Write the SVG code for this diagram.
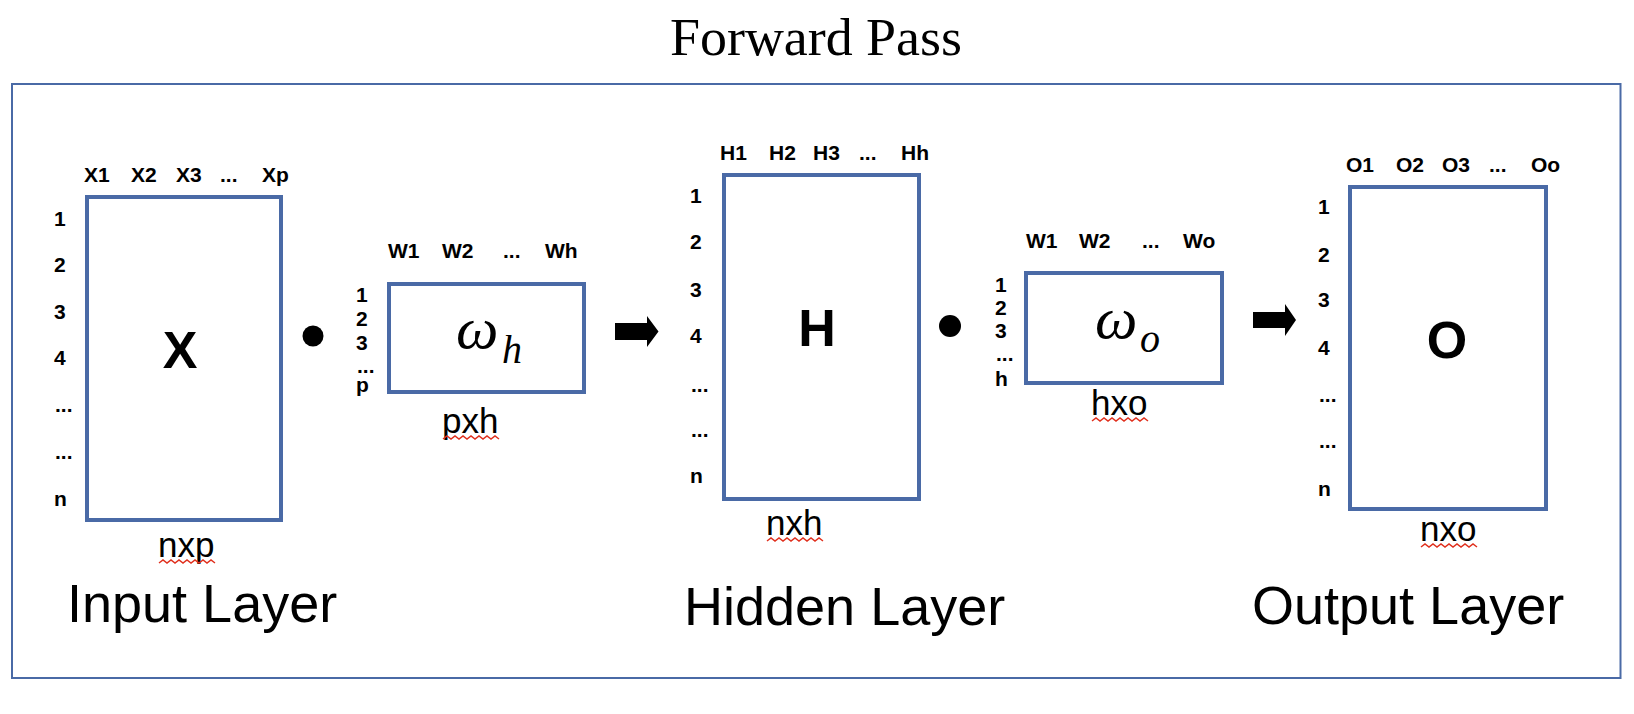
<svg xmlns="http://www.w3.org/2000/svg" width="1634" height="714" viewBox="0 0 1634 714">
<style>
.box{fill:#fff;stroke:#4a6aa6;stroke-width:4}
.frame{fill:none;stroke:#4a6aa6;stroke-width:2}
.lbl{font-family:"Liberation Sans",Arial,sans-serif;font-weight:bold;font-size:21px;fill:#000}
.big{font-family:"Liberation Sans",Arial,sans-serif;font-weight:bold;font-size:52px;fill:#000;text-anchor:middle}
.dim{font-family:"Liberation Sans",Arial,sans-serif;font-size:35px;fill:#000}
.layer{font-family:"Liberation Sans",Arial,sans-serif;font-size:54px;fill:#000}
.greek{font-family:"Liberation Serif","Times New Roman",serif;font-style:italic;fill:#000}
.sq{fill:none;stroke:#e0301e;stroke-width:1.5}
</style>
<rect class="frame" x="12" y="84" width="1608.5" height="594"/>
<text x="816" y="55" font-family="Liberation Serif,'Times New Roman',serif" font-size="52" text-anchor="middle" textLength="292" lengthAdjust="spacingAndGlyphs">Forward Pass</text>

<g id="input">
<rect class="box" x="87" y="197" width="194" height="323"/>
<text class="big" x="180" y="368">X</text>
<text class="lbl" x="84" y="182">X1</text>
<text class="lbl" x="131" y="182">X2</text>
<text class="lbl" x="176" y="182">X3</text>
<text class="lbl" x="220" y="182">...</text>
<text class="lbl" x="262" y="182">Xp</text>
<text class="lbl" x="54" y="226">1</text>
<text class="lbl" x="54" y="272">2</text>
<text class="lbl" x="54" y="319">3</text>
<text class="lbl" x="54" y="365">4</text>
<text class="lbl" x="55" y="412">...</text>
<text class="lbl" x="55" y="459">...</text>
<text class="lbl" x="54" y="506">n</text>
<text class="dim" x="158" y="557">nxp</text>
<path class="sq" d="M159 563 l4 -3 l4 3 l4 -3 l4 3 l4 -3 l4 3 l4 -3 l4 3 l4 -3 l4 3 l4 -3 l4 3 l4 -3 l4 3"/>
<text class="layer" x="67" y="622">Input Layer</text>
</g>

<g id="weights_h">
<rect class="box" x="389" y="284" width="195" height="108"/>
<text class="greek" x="456" y="348" font-size="60">ω</text>
<text class="greek" x="502" y="363" font-size="40">h</text>
<text class="lbl" x="388" y="258">W1</text>
<text class="lbl" x="442" y="258">W2</text>
<text class="lbl" x="503" y="258">...</text>
<text class="lbl" x="545" y="258">Wh</text>
<text class="lbl" x="356" y="302">1</text>
<text class="lbl" x="356" y="326">2</text>
<text class="lbl" x="356" y="350">3</text>
<text class="lbl" x="357" y="373">...</text>
<text class="lbl" x="356" y="392">p</text>
<text class="dim" x="442" y="433">pxh</text>
<path class="sq" d="M443 439 l4 -3 l4 3 l4 -3 l4 3 l4 -3 l4 3 l4 -3 l4 3 l4 -3 l4 3 l4 -3 l4 3 l4 -3 l4 3"/>
</g>

<g id="hidden">
<rect class="box" x="724" y="175" width="195" height="324"/>
<text class="big" x="817" y="346">H</text>
<text class="lbl" x="720" y="160">H1</text>
<text class="lbl" x="769" y="160">H2</text>
<text class="lbl" x="813" y="160">H3</text>
<text class="lbl" x="859" y="160">...</text>
<text class="lbl" x="901" y="160">Hh</text>
<text class="lbl" x="690" y="203">1</text>
<text class="lbl" x="690" y="249">2</text>
<text class="lbl" x="690" y="297">3</text>
<text class="lbl" x="690" y="343">4</text>
<text class="lbl" x="691" y="392">...</text>
<text class="lbl" x="691" y="437">...</text>
<text class="lbl" x="690" y="483">n</text>
<text class="dim" x="766" y="535">nxh</text>
<path class="sq" d="M767 541 l4 -3 l4 3 l4 -3 l4 3 l4 -3 l4 3 l4 -3 l4 3 l4 -3 l4 3 l4 -3 l4 3 l4 -3 l4 3"/>
<text class="layer" x="684" y="625">Hidden Layer</text>
</g>

<g id="weights_o">
<rect class="box" x="1026" y="273" width="196" height="110"/>
<text class="greek" x="1095" y="338" font-size="60">ω</text>
<text class="greek" x="1140" y="352" font-size="40">o</text>
<text class="lbl" x="1026" y="248">W1</text>
<text class="lbl" x="1079" y="248">W2</text>
<text class="lbl" x="1142" y="248">...</text>
<text class="lbl" x="1183" y="248">Wo</text>
<text class="lbl" x="995" y="292">1</text>
<text class="lbl" x="995" y="315">2</text>
<text class="lbl" x="995" y="338">3</text>
<text class="lbl" x="996" y="361">...</text>
<text class="lbl" x="995" y="386">h</text>
<text class="dim" x="1091" y="415">hxo</text>
<path class="sq" d="M1092 421 l4 -3 l4 3 l4 -3 l4 3 l4 -3 l4 3 l4 -3 l4 3 l4 -3 l4 3 l4 -3 l4 3 l4 -3 l4 3"/>
</g>

<g id="output">
<rect class="box" x="1350" y="187" width="196" height="322"/>
<text class="big" x="1447" y="358">O</text>
<text class="lbl" x="1346" y="172">O1</text>
<text class="lbl" x="1396" y="172">O2</text>
<text class="lbl" x="1442" y="172">O3</text>
<text class="lbl" x="1489" y="172">...</text>
<text class="lbl" x="1531" y="172">Oo</text>
<text class="lbl" x="1318" y="214">1</text>
<text class="lbl" x="1318" y="262">2</text>
<text class="lbl" x="1318" y="307">3</text>
<text class="lbl" x="1318" y="355">4</text>
<text class="lbl" x="1319" y="402">...</text>
<text class="lbl" x="1319" y="448">...</text>
<text class="lbl" x="1318" y="496">n</text>
<text class="dim" x="1420" y="541">nxo</text>
<path class="sq" d="M1421 547 l4 -3 l4 3 l4 -3 l4 3 l4 -3 l4 3 l4 -3 l4 3 l4 -3 l4 3 l4 -3 l4 3 l4 -3 l4 3"/>
<text class="layer" x="1252" y="624">Output Layer</text>
</g>

<g id="connectors">
<circle cx="313" cy="336" r="10.5" fill="#000"/>
<circle cx="950" cy="326" r="11" fill="#000"/>
<path d="M615 323 H647 V316 L658.5 331.5 L647 347 V340 H615 Z" fill="#000"/>
<path d="M1253 312 H1285 V304 L1296 320 L1285 336 V328 H1253 Z" fill="#000"/>
</g>
</svg>
